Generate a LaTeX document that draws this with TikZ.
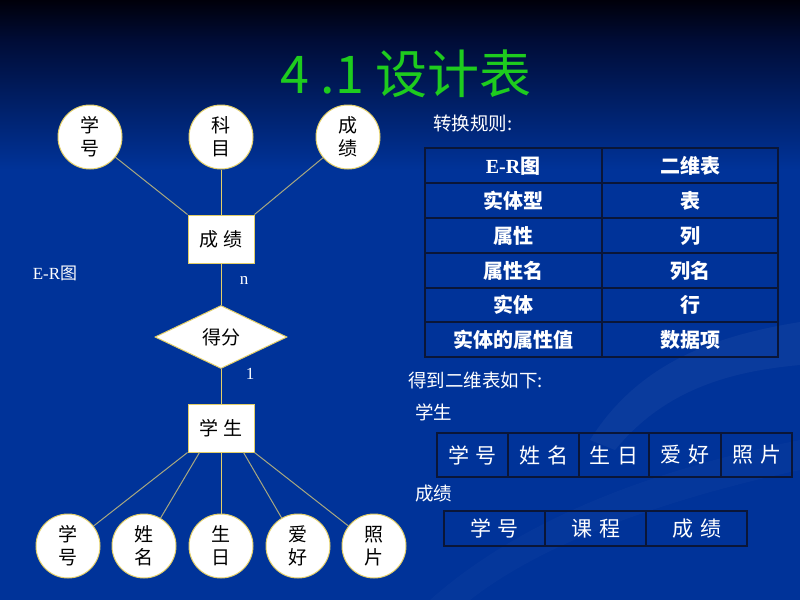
\documentclass[tikz,border=0pt]{standalone}
\usepackage{fontspec}
\setmainfont{Liberation Serif}
\newfontfamily\cjk{Noto Sans CJK SC}
\usetikzlibrary{shapes.geometric}
\definecolor{bg}{HTML}{003399}
\definecolor{bgtop}{HTML}{00000A}
\definecolor{bgmid}{HTML}{000C36}
\definecolor{ttl}{HTML}{1ECC1E}
\definecolor{edgec}{HTML}{E2CE68}
\definecolor{diagc}{HTML}{A8A880}
\definecolor{tline}{HTML}{0A1638}
\begin{document}
\begin{tikzpicture}[x=1pt,y=-1pt,
  attr/.style={circle, draw=edgec, fill=white, line width=1pt, minimum size=64pt, inner sep=0pt,
    font=\cjk\fontsize{19}{23}\selectfont, align=center, text=black},
  ent/.style={rectangle, draw=edgec, fill=white, line width=1pt, minimum width=66pt, minimum height=48pt,
    inner sep=0pt, font=\cjk\fontsize{19}{23}\selectfont, text=black},
  rel/.style={diamond, draw=edgec, fill=white, line width=1pt, minimum width=132pt, minimum height=63pt,
    inner sep=0pt, font=\cjk\fontsize{19}{23}\selectfont, text=black},
  conn/.style={draw=edgec, line width=0.9pt},
  diag/.style={draw=diagc, line width=1pt},
  wlabel/.style={text=white, inner sep=0pt, font=\cjk\fontsize{18.5}{22}\selectfont},
  card/.style={text=white, inner sep=0pt, font=\fontsize{17}{20}\selectfont},
  rulecell/.style={text=white, inner sep=0pt, font=\cjk\bfseries\fontsize{20}{24}\selectfont},
  tcell/.style={text=white, inner sep=0pt, font=\cjk\fontsize{21}{25}\selectfont},
  tgrid/.style={draw=tline, line width=1.6pt}
]
\useasboundingbox (0,0) rectangle (800,600);
\fill[bg] (0,0) rectangle (800,600);
\shade[top color=bgmid, bottom color=bg] (0,39.5) rectangle (800,170);
\shade[top color=bgtop, bottom color=bgmid] (0,0) rectangle (800,40);
% faint background swooshes
\fill[white, opacity=0.04] (590,440) .. controls (640,360) and (720,335) .. (800,322) -- (800,365) .. controls (720,372) and (660,395) .. (615,450) -- cycle;
\fill[white, opacity=0.02] (430,600) .. controls (520,520) and (650,470) .. (800,440) -- (800,470) .. controls (660,500) and (540,545) .. (470,600) -- cycle;

% title
\node[text=ttl, font=\cjk\fontsize{52}{60}\selectfont, inner sep=0pt] (title) at (406,74) {4 .1 设计表};

% E-R diagram
\node[attr] (a1) at (90,137) {学\\号};
\node[attr] (a2) at (221,137) {科\\目};
\node[attr] (a3) at (348,137) {成\\绩};
\node[ent] (e1) at (221,239) {成\hspace{5pt}绩};
\node[rel] (r) at (221,337) {得分};
\node[ent] (e2) at (221,428) {学\hspace{5pt}生};
\node[attr] (b1) at (68,546) {学\\号};
\node[attr] (b2) at (144,546) {姓\\名};
\node[attr] (b3) at (221,546) {生\\日};
\node[attr] (b4) at (298,546) {爱\\好};
\node[attr] (b5) at (374,546) {照\\片};

\draw[diag] (a1) -- (e1.north west);
\draw[conn] (a2) -- (e1);
\draw[diag] (a3) -- (e1.north east);
\draw[conn] (e1) -- (r);
\draw[conn] (r) -- (e2);
\coordinate (e2l) at ([xshift=12pt]e2.south west);
\coordinate (e2r) at ([xshift=-11pt]e2.south east);
\draw[diag] (e2.south west) -- (b1);
\draw[diag] (e2l) -- (b2);
\draw[conn] (e2) -- (b3);
\draw[diag] (e2r) -- (b4);
\draw[diag] (e2.south east) -- (b5);

\node[card] (cn) at (244,280) {n};
\node[card] (c1) at (250,374) {1};
\node[text=white, inner sep=0pt, font=\fontsize{17}{20}\selectfont] (erlabel) at (55,273) {E-R{\cjk 图}};

% conversion rules
\node[wlabel, anchor=west] (rules) at (433,123) {转换规则:};
\draw[tgrid] (425,148) rectangle (778,357);
\draw[tgrid] (602,148) -- (602,357);
\foreach \yy in {183,218,253,288,322} { \draw[tgrid] (425,\yy) -- (778,\yy); }
\node[rulecell] (r1a) at (513,166) {\fontspec{Liberation Serif}\bfseries E-R{\cjk\bfseries 图}};
\node[rulecell] (r1b) at (690,166) {二维表};
\node[rulecell] (r2a) at (513,201) {实体型};
\node[rulecell] (r2b) at (690,201) {表};
\node[rulecell] (r3a) at (513,236) {属性};
\node[rulecell] (r3b) at (690,236) {列};
\node[rulecell] (r4a) at (513,271) {属性名};
\node[rulecell] (r4b) at (690,271) {列名};
\node[rulecell] (r5a) at (513,305) {实体};
\node[rulecell] (r5b) at (690,305) {行};
\node[rulecell] (r6a) at (513,340) {实体的属性值};
\node[rulecell] (r6b) at (690,340) {数据项};

% resulting tables
\node[wlabel, anchor=west] (got) at (408,380) {得到二维表如下:};
\node[wlabel, anchor=west] (t1lab) at (415,412) {学生};
\draw[tgrid] (437,433) rectangle (792,477);
\foreach \xx in {508,579,649,721} { \draw[tgrid] (\xx,433) -- (\xx,477); }
\node[tcell] (s1) at (472.5,455) {学\hspace{7pt}号};
\node[tcell] (s2) at (543.5,455) {姓\hspace{7pt}名};
\node[tcell] (s3) at (614,455) {生\hspace{7pt}日};
\node[tcell] (s4) at (685,455) {爱\hspace{7pt}好};
\node[tcell] (s5) at (756.5,455) {照\hspace{7pt}片};

\node[wlabel, anchor=west] (t2lab) at (415,494) {成绩};
\draw[tgrid] (444,511) rectangle (747,546);
\foreach \xx in {545,646} { \draw[tgrid] (\xx,511) -- (\xx,546); }
\node[tcell] (g1) at (494.5,528.5) {学\hspace{7pt}号};
\node[tcell] (g2) at (595.5,528.5) {课\hspace{7pt}程};
\node[tcell] (g3) at (696.5,528.5) {成\hspace{7pt}绩};
\end{tikzpicture}
\end{document}
